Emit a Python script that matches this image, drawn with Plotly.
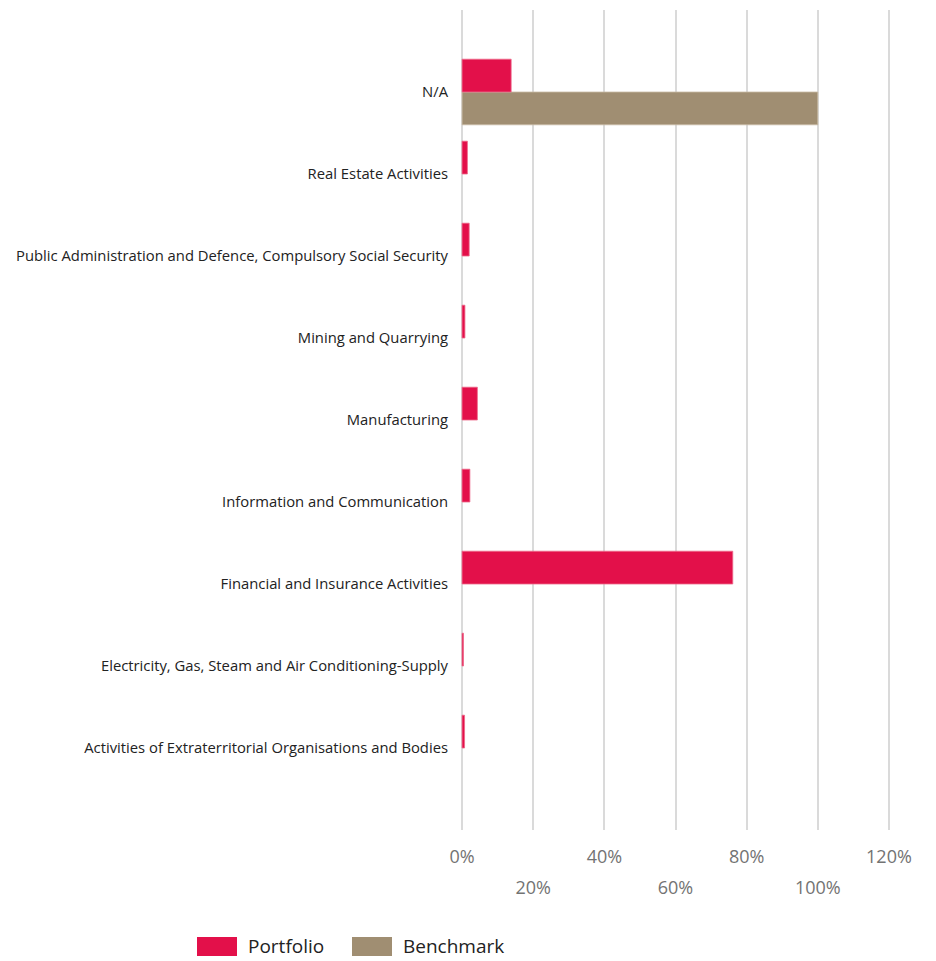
import plotly.graph_objects as go

# Sector allocation, listed bottom-to-top as drawn on the category axis
sectors = [
    "Activities of Extraterritorial Organisations and Bodies",
    "Electricity, Gas, Steam and Air Conditioning-Supply",
    "Financial and Insurance Activities",
    "Information and Communication",
    "Manufacturing",
    "Mining and Quarrying",
    "Public Administration and Defence, Compulsory Social Security",
    "Real Estate Activities",
    "N/A",
]
portfolio = [0.7, 0.4, 76.1, 2.2, 4.3, 0.8, 2.0, 1.5, 13.8]
benchmark = [0, 0, 0, 0, 0, 0, 0, 0, 100.0]

upper_ticks = [0, 40, 80, 120]
lower_ticks = [20, 60, 100]

PORTFOLIO_COLOR = "#E3104A"
BENCHMARK_COLOR = "#A08E72"

W, H = 936, 961
L, R, T, B = 461, 46, 10, 131
pw, ph = W - L - R, H - T - B


def outline(values):
    # thin outline only on bars that actually have a length
    return [0.8 if v > 0 else 0 for v in values]


fig = go.Figure()
# Benchmark first so the Portfolio bar sits on top within each group
fig.add_trace(go.Bar(
    y=sectors, x=benchmark, orientation="h", name="Benchmark",
    marker=dict(color=BENCHMARK_COLOR,
                line=dict(color="#C9BBA5", width=outline(benchmark))),
))
fig.add_trace(go.Bar(
    y=sectors, x=portfolio, orientation="h", name="Portfolio",
    marker=dict(color=PORTFOLIO_COLOR,
                line=dict(color="#EE6A8C", width=outline(portfolio))),
))
# invisible helper so the staggered second tick row has a subplot to live on
fig.add_trace(go.Scatter(x=[None], y=[None], xaxis="x2", showlegend=False,
                         hoverinfo="skip"))

x_range = [-0.3, 120.3]
all_ticks = [0, 20, 40, 60, 80, 100, 120]
fig.update_layout(
    width=W, height=H,
    margin=dict(l=L, r=R, t=T, b=B),
    paper_bgcolor="white", plot_bgcolor="white",
    barmode="group", bargap=0.2, bargroupgap=0,
    showlegend=False,
    font=dict(family="Open Sans, Noto Sans, sans-serif"),
    xaxis=dict(
        range=x_range, tickmode="array",
        tickvals=all_ticks,
        ticktext=[f"{v}%" if v in upper_ticks else "" for v in all_ticks],
        showgrid=True, gridcolor="#DADADA", gridwidth=2,
        zeroline=False, showline=False, ticks="",
        tickfont=dict(size=18, color="#737373"),
        ticklabelstandoff=14,
    ),
    xaxis2=dict(
        range=x_range, overlaying="x", side="bottom", anchor="y",
        tickmode="array", tickvals=lower_ticks,
        ticktext=[f"{v}%" for v in lower_ticks],
        showgrid=False, zeroline=False, showline=False, ticks="",
        tickfont=dict(size=18, color="#737373"),
        ticklabelstandoff=45,
    ),
    yaxis=dict(
        range=[-1, 9], showgrid=False, zeroline=False, showline=False,
        ticks="", ticklabelstandoff=12,
        tickfont=dict(size=14.8, color="#222222"),
    ),
)

# Legend drawn as wide swatches below the chart
def px_x(v):
    return (v - L) / pw

def px_y(v):
    return (H - B - v) / ph

legend_items = [("Portfolio", PORTFOLIO_COLOR, 197), ("Benchmark", BENCHMARK_COLOR, 352)]
for label, color, x0 in legend_items:
    fig.add_shape(type="rect", xref="paper", yref="paper",
                  x0=px_x(x0), x1=px_x(x0 + 40), y0=px_y(956), y1=px_y(937),
                  fillcolor=color, line=dict(width=0))
    fig.add_annotation(xref="paper", yref="paper", x=px_x(x0 + 49), y=px_y(946),
                       text=label, showarrow=False, xanchor="left", yanchor="middle",
                       font=dict(size=19, color="#222222"))

fig.write_html("out.html")
